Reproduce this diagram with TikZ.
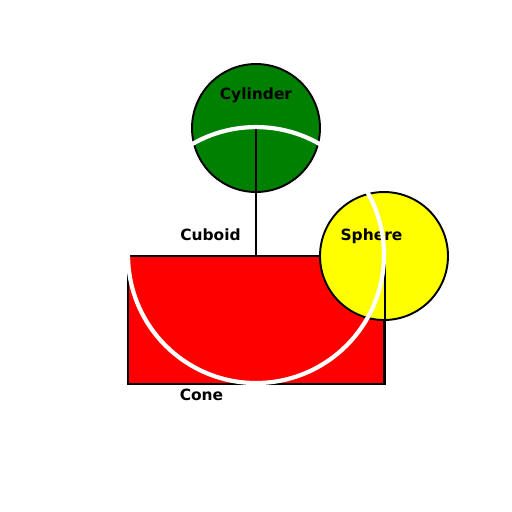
\documentclass[tikz,border=0pt]{standalone}
\usepackage{fontspec}
\setmainfont{DejaVu Sans}
\usetikzlibrary{positioning}

\definecolor{cylgreen}{RGB}{0,128,0}
\definecolor{cubred}{RGB}{255,0,0}
\definecolor{sphyellow}{RGB}{255,255,0}

\begin{document}
\begin{tikzpicture}[x=0.02cm,y=-0.02cm,
    outline/.style={draw=black,line width=1.1pt,inner sep=0pt},
    ball/.style={outline,circle,minimum size=2.56cm},
    lbl/.style={font=\fontsize{8.8}{10}\selectfont\bfseries,inner sep=0pt}
  ]

    \useasboundingbox (0,0) rectangle (512,512);

    % cylinder and its stem
    \node[ball,fill=cylgreen] (cylinder) at (256,128) {};
    \node[outline,fill=cubred,minimum width=5.12cm,minimum height=2.56cm] (cuboid) at (256,320) {};
    \draw[line width=1.1pt] (cylinder.center) -- (cuboid.north);

    % sphere on the corner
    \node[ball,fill=sphyellow] (sphere) at (384,256) {};
    \draw[line width=1.1pt] (cuboid.north east) -- (cuboid.south east);

    % labels
    \node[lbl] (cyltext) at (256,95.5) {Cylinder};
    \node[lbl] (cubtext) at (210.5,235) {Cuboid};
    \node[lbl] (sphtext) at (371.5,236.5) {Sphere};
    \node[lbl] (context) at (201.5,394.5) {Cone};

    % cone outline
    \draw[white,line width=2.4pt] (cuboid.north) circle (2.56cm);

\end{tikzpicture}
\end{document}
